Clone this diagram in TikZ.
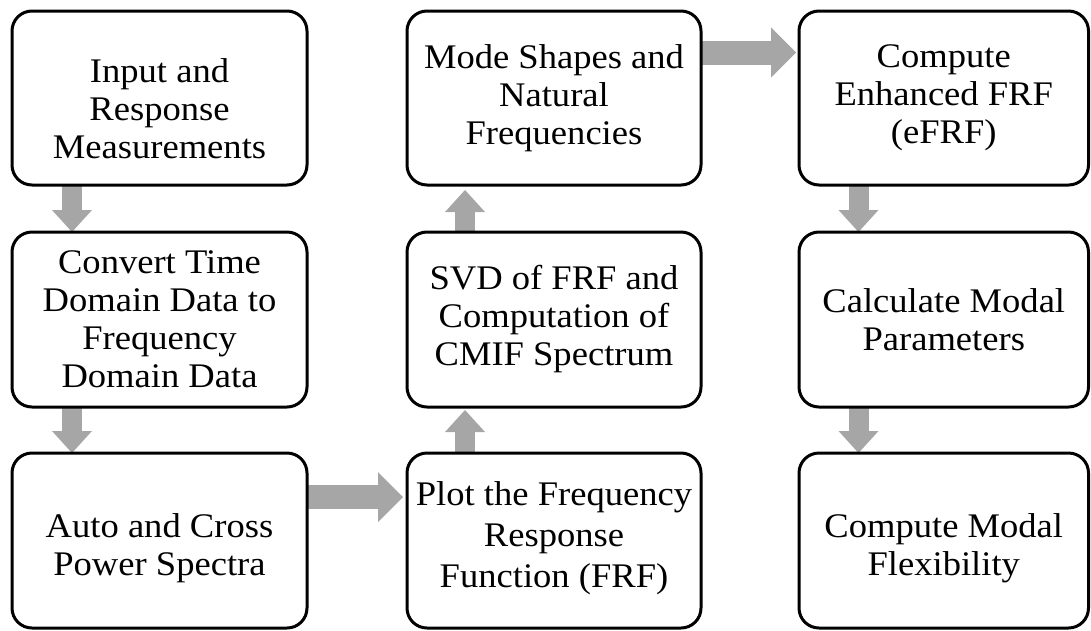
\documentclass[tikz,border=0pt]{standalone}
\usepackage{fontspec}
\setmainfont[FakeStretch=1.06]{Liberation Serif}
\usetikzlibrary{arrows.meta,calc,backgrounds}
\definecolor{arrowgray}{RGB}{166,166,166}
\begin{document}
\begin{tikzpicture}[x=1pt,y=-1pt,
  box/.style={draw=black, line width=3pt, rounded corners=20pt,
    inner sep=0pt, outer sep=0pt, minimum height=175pt},
  colA/.style={box, minimum width=295pt},
  colB/.style={box, minimum width=294pt},
  colC/.style={box, minimum width=289.5pt},
  txt/.style={align=center, inner sep=0pt, font=\fontsize{34.5}{38}\selectfont},
  txtwide/.style={align=center, inner sep=0pt, font=\fontsize{34.5}{41}\selectfont},
  varrow/.style={draw=arrowgray, line width=20pt,
    -{Triangle[width=40pt,length=22pt,line width=0pt]}},
  harrow/.style={draw=arrowgray, line width=24pt,
    -{Triangle[width=50pt,length=25pt,line width=0pt]}}]
\useasboundingbox (0,0) rectangle (1091,630);
% boxes
\node[colA, minimum height=174pt] (n1) at (159.5,98) {};
\node[colA] (n2) at (159.5,319.5) {};
\node[colA] (n3) at (159.5,540.5) {};
\node[colB, minimum height=174pt] (n4) at (554,98) {};
\node[colB] (n5) at (554,319.5) {};
\node[colB] (n6) at (554,540.5) {};
\node[colC, minimum height=174pt] (n7) at (943.75,98) {};
\node[colC] (n8) at (943.75,319.5) {};
\node[colC] (n9) at (943.75,540.5) {};
% texts
\node[txt] (t1) at ($(n1.center)+(0,11)$) {Input and\\Response\\Measurements};
\node[txt] (t2) at (n2.center) {Convert Time\\Domain Data to\\Frequency\\Domain Data};
\node[txt] (t3) at ($(n3.center)+(0,8)$) {Auto and Cross\\Power Spectra};
\node[txt] (t4) at (n4.center) {Mode Shapes and\\Natural\\Frequencies};
\node[txt] (t5) at (n5.center) {SVD of FRF and\\Computation of\\CMIF Spectrum};
\node[txtwide] (t6) at ($(n6.center)+(0,-2)$) {Plot the Frequency\\Response\\Function (FRF)};
\node[txt] (t7) at (n7.center) {Compute\\Enhanced FRF\\(eFRF)};
\node[txt] (t8) at (n8.center) {Calculate Modal\\Parameters};
\node[txt] (t9) at ($(n9.center)+(0,8)$) {Compute Modal\\Flexibility};
% arrows
\begin{scope}[on background layer]
\draw[varrow] ($(n1.south west)+(60,0)$) -- ($(n2.north west)+(60,0)$);
\draw[varrow] ($(n2.south west)+(60,0)$) -- ($(n3.north west)+(60,0)$);
\draw[harrow] ($(n3.east)+(0,-43.5)$) -- ($(n6.west)+(-4,-43.5)$);
\draw[varrow] ($(n6.north west)+(58,0)$) -- ($(n5.south west)+(58,3)$);
\draw[varrow] ($(n5.north west)+(58,0)$) -- ($(n4.south west)+(58,5)$);
\draw[harrow] ($(n4.east)+(0,-45.5)$) -- ($(n7.west)+(-3,-45.5)$);
\draw[varrow] ($(n7.south west)+(59.5,0)$) -- ($(n8.north west)+(59.5,0)$);
\draw[varrow] ($(n8.south west)+(59.5,0)$) -- ($(n9.north west)+(59.5,0)$);
\end{scope}
\end{tikzpicture}
\end{document}
